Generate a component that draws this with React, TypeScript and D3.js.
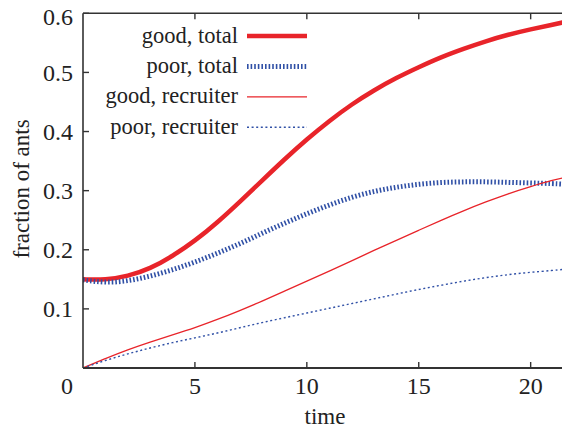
import React from "react";
import * as d3 from "d3";

const times = [0, 1, 2, 3, 4, 5, 6, 7, 8, 9, 10, 11, 12, 13, 14, 15, 16, 17, 18, 19, 20, 21, 21.5];
const goodTotal = [0.150, 0.149, 0.155, 0.168, 0.189, 0.215, 0.246, 0.281, 0.317, 0.353, 0.387, 0.418, 0.446, 0.470, 0.491, 0.509, 0.526, 0.540, 0.553, 0.564, 0.573, 0.581, 0.585];
const poorTotal = [0.149, 0.144, 0.147, 0.155, 0.166, 0.179, 0.194, 0.210, 0.228, 0.245, 0.261, 0.276, 0.289, 0.299, 0.306, 0.311, 0.314, 0.315, 0.315, 0.314, 0.313, 0.312, 0.311];
const goodRecruiter = [0, 0.016, 0.031, 0.044, 0.056, 0.068, 0.082, 0.097, 0.113, 0.130, 0.147, 0.164, 0.181, 0.199, 0.216, 0.233, 0.250, 0.266, 0.281, 0.295, 0.307, 0.318, 0.322];
const poorRecruiter = [0, 0.013, 0.024, 0.034, 0.043, 0.051, 0.059, 0.068, 0.077, 0.085, 0.093, 0.101, 0.109, 0.117, 0.125, 0.133, 0.140, 0.147, 0.153, 0.158, 0.162, 0.165, 0.167];

const seriesNames = ["good, total", "poor, total", "good, recruiter", "poor, recruiter"];
const xTicks = [5, 10, 15, 20];
const yTicks = [0.1, 0.2, 0.3, 0.4, 0.5, 0.6];
const xLabel = "time";
const yLabel = "fraction of ants";

const RED = "#e8242a";
const BLUE = "#3050a6";
const AXIS = "#333";
const TEXT = "#222";
const FONT = "Liberation Serif, Tinos, Times New Roman, DejaVu Serif, serif";

const styles = [
  { color: RED, width: 4.5, dash: "" },
  { color: BLUE, width: 5, dash: "1.6,2" },
  { color: RED, width: 1.3, dash: "" },
  { color: BLUE, width: 1.4, dash: "2,2.6" },
];

export default function App() {
  const W = 562, H = 430;
  const left = 83, right = 562, top = 13.3, bottom = 368;
  const x = d3.scaleLinear().domain([0, 21.4]).range([left, right]);
  const y = d3.scaleLinear().domain([0, 0.6]).range([bottom, top]);
  const data = [goodTotal, poorTotal, goodRecruiter, poorRecruiter];
  const line = d3
    .line<[number, number]>()
    .x((d) => x(d[0]))
    .y((d) => y(d[1]))
    .curve(d3.curveBasis);

  return (
    <svg
      width={W}
      height={H}
      style={{ position: "absolute", left: 0, top: 0, background: "#fff", fontFamily: FONT }}
    >
      <defs>
        <clipPath id="plot">
          <rect x={left} y={top} width={right - left} height={bottom - top} />
        </clipPath>
      </defs>
      <g clipPath="url(#plot)">
        {data.map((vals, i) => (
          <path
            key={i}
            d={line(times.map((t, j) => [t, vals[j]]) as [number, number][]) || ""}
            fill="none"
            stroke={styles[i].color}
            strokeWidth={styles[i].width}
            strokeDasharray={styles[i].dash}
          />
        ))}
      </g>
      <line x1={left} x2={left} y1={top} y2={bottom} stroke={AXIS} strokeWidth={1.6} />
      <line x1={left} x2={right} y1={bottom} y2={bottom} stroke={AXIS} strokeWidth={1.8} />
      <line x1={left} x2={right} y1={top} y2={top} stroke={AXIS} strokeWidth={1.4} />
      {xTicks.map((t) => (
        <g key={t}>
          <line x1={x(t)} x2={x(t)} y1={bottom} y2={bottom - 6} stroke={AXIS} strokeWidth={1.4} />
          <line x1={x(t)} x2={x(t)} y1={top} y2={top + 6} stroke={AXIS} strokeWidth={1.4} />
          <text x={x(t)} y={394} textAnchor="middle" fontSize={24} fill={TEXT}>
            {t}
          </text>
        </g>
      ))}
      <text x={x(0) - 16} y={394} textAnchor="middle" fontSize={24} fill={TEXT}>
        0
      </text>
      {yTicks.map((v) => (
        <g key={v}>
          <line x1={left} x2={left + 6} y1={y(v)} y2={y(v)} stroke={AXIS} strokeWidth={1.4} />
          <text
            x={73}
            y={Math.max(y(v), 16) + 8.5}
            textAnchor="end"
            fontSize={24}
            fill={TEXT}
          >
            {v.toFixed(1)}
          </text>
        </g>
      ))}
      <text x={325} y={424} textAnchor="middle" fontSize={23} fill={TEXT}>
        {xLabel}
      </text>
      <text
        transform={`translate(29,189) rotate(-90)`}
        textAnchor="middle"
        fontSize={23}
        fill={TEXT}
      >
        {yLabel}
      </text>
      {seriesNames.map((name, i) => {
        const ly = 36 + i * 30.4;
        return (
          <g key={name}>
            <text x={238} y={ly + 6.5} textAnchor="end" fontSize={22.5} fill={TEXT}>
              {name}
            </text>
            <line
              x1={247}
              x2={307}
              y1={ly}
              y2={ly}
              stroke={styles[i].color}
              strokeWidth={styles[i].width}
              strokeDasharray={styles[i].dash}
            />
          </g>
        );
      })}
    </svg>
  );
}
